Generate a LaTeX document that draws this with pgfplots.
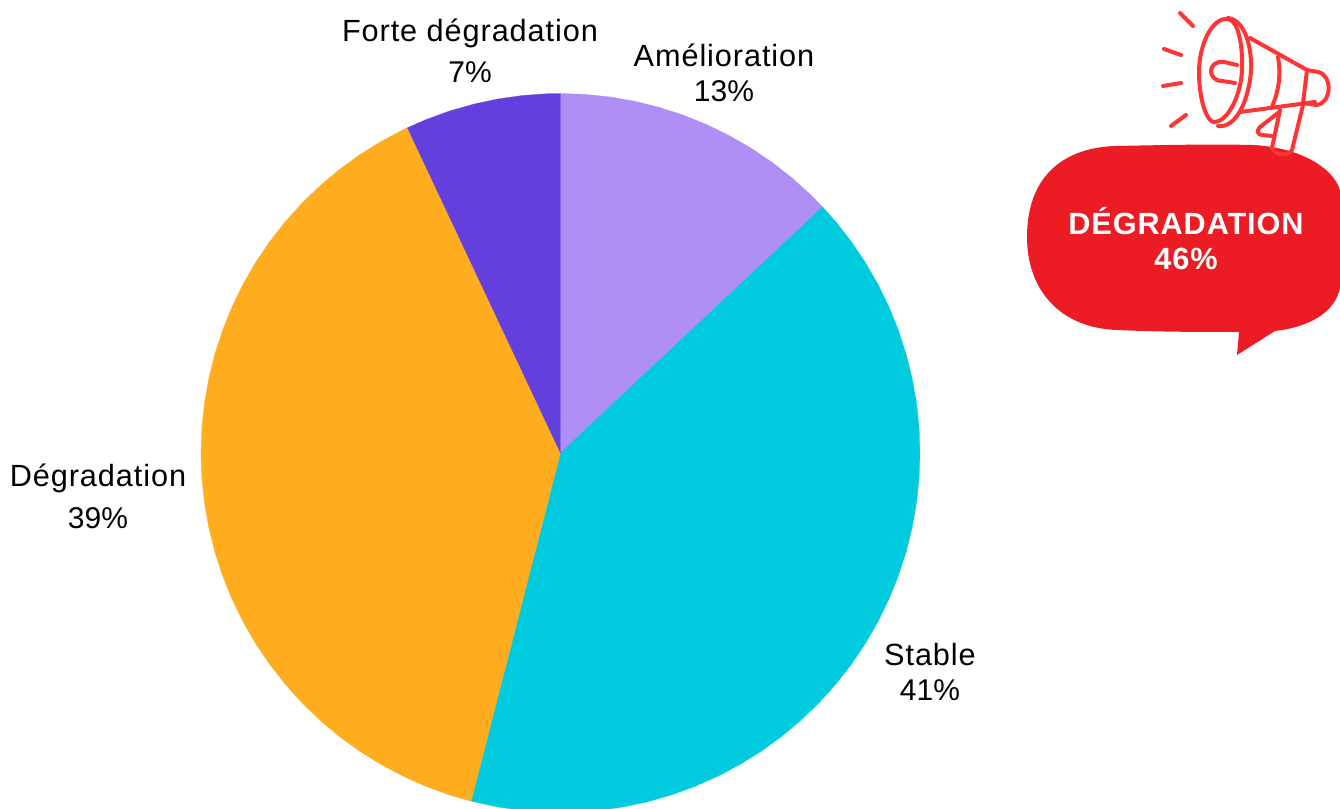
\documentclass[border=0pt]{standalone}
\usepackage{pgfplots}
\pgfplotsset{compat=1.18}
\usepackage{fontspec}
\setmainfont{Liberation Sans}
\newfontfamily\wordf[LetterSpace=3]{Liberation Sans}
\definecolor{sA}{HTML}{AF8FF5}
\definecolor{sB}{HTML}{00CBDE}
\definecolor{sC}{HTML}{FFAC1E}
\definecolor{sD}{HTML}{6340DD}
\definecolor{bub}{HTML}{ED1C24}
\definecolor{meg}{HTML}{FF3535}
\begin{document}
\begin{tikzpicture}
\path[use as bounding box] (0,0) rectangle (1005pt,606.75pt);
% Shares: 13, 41, 39, 7 (%) -> slices in polar coordinates (angle, radius)
\begin{axis}[scale only axis,width=1005pt,height=606.75pt,hide axis,at={(0,0)},anchor=south west,
  xmin=-1.5591,xmax=2.1683,ymin=-0.9903,ymax=1.2601]
\addplot[fill=sA,draw=sA,line width=0.2pt,data cs=polar] coordinates {(0,0)
 (90,1)(86,1)(82,1)(78,1)(74,1)(70,1)(66,1)(62,1)(58,1)(54,1)(50,1)(46,1)(43.2,1)} -- cycle;
\addplot[fill=sB,draw=sB,line width=0.2pt,data cs=polar] coordinates {(0,0)
 (43.2,1)(40,1)(36,1)(32,1)(28,1)(24,1)(20,1)(16,1)(12,1)(8,1)(4,1)(0,1)
 (-4,1)(-8,1)(-12,1)(-16,1)(-20,1)(-24,1)(-28,1)(-32,1)(-36,1)(-40,1)(-44,1)(-48,1)(-52,1)
 (-56,1)(-60,1)(-64,1)(-68,1)(-72,1)(-76,1)(-80,1)(-84,1)(-88,1)(-92,1)(-96,1)(-100,1)(-104.4,1)} -- cycle;
\addplot[fill=sC,draw=sC,line width=0.2pt,data cs=polar] coordinates {(0,0)
 (-104.4,1)(-108,1)(-112,1)(-116,1)(-120,1)(-124,1)(-128,1)(-132,1)(-136,1)(-140,1)(-144,1)(-148,1)
 (-152,1)(-156,1)(-160,1)(-164,1)(-168,1)(-172,1)(-176,1)(-180,1)(-184,1)(-188,1)(-192,1)(-196,1)
 (-200,1)(-204,1)(-208,1)(-212,1)(-216,1)(-220,1)(-224,1)(-228,1)(-232,1)(-236,1)(-240,1)(-244,1)(-244.8,1)} -- cycle;
\addplot[fill=sD,draw=sD,line width=0.2pt,data cs=polar] coordinates {(0,0)
 (-244.8,1)(-248,1)(-252,1)(-256,1)(-260,1)(-264,1)(-268,1)(-270,1)} -- cycle;
\end{axis}
\begin{scope}[shift={(0,606.75pt)},x=0.75pt,y=-0.75pt]
\fill[bub] (1117,146) .. controls (1165,145) and (1210,144) .. (1253,145)
  .. controls (1295,147) and (1332,165) .. (1340,190) -- (1340,288)
  .. controls (1335,312) and (1310,327) .. (1275,331) -- (1237,355) -- (1239,332)
  .. controls (1200,332) and (1160,332) .. (1117,330)
  .. controls (1060,328) and (1027,290) .. (1027,237)
  .. controls (1027,175) and (1065,147) .. (1117,146) -- cycle;
\begin{scope}[draw=meg,line width=3pt,line cap=round,line join=round]
\draw (1228,19) .. controls (1212,17) and (1199,45) .. (1199,72)
  .. controls (1199,100) and (1207,122) .. (1214,122)
  .. controls (1228,122) and (1241,95) .. (1242,70)
  .. controls (1243,45) and (1238,20) .. (1228,19);
\draw (1228,18) .. controls (1247,20) and (1254,55) .. (1250,80)
  .. controls (1246,105) and (1235,128) .. (1218,126);
\draw (1250,38) -- (1307,70);
\draw (1240,112) -- (1315,102);
\draw (1278,57) .. controls (1281,75) and (1279,90) .. (1272,107);
\draw (1307,70) -- (1303,103);
\draw (1307,70) -- (1318,72) .. controls (1333,75) and (1332,104) .. (1316,105) -- (1303,103);
\draw (1303,105) -- (1292,150) .. controls (1288,157) and (1275,155) .. (1272,148) -- (1280,110);
\draw (1278,113) -- (1260,127) .. controls (1256,131) and (1258,135) .. (1262,135) -- (1272,136);
\draw (1237,65) -- (1224,62) .. controls (1207,60) and (1207,81) .. (1222,81) -- (1235,83);
\draw (1180,13) -- (1193,26);
\draw (1164,49) -- (1181,55);
\draw (1163,86) -- (1181,83);
\draw (1171,126) -- (1186,115);
\end{scope}
\tikzset{lab/.style={anchor=base,inner sep=0pt,font=\fontsize{22.5pt}{27pt}\selectfont,text=black}}
\tikzset{wlab/.style={anchor=base,inner sep=0pt,font=\wordf\fontsize{23pt}{27pt}\selectfont,text=black}}
\node[wlab] at (470,42) {Forte dégradation};
\node[lab] at (470,83) {7\%};
\node[wlab] at (724,67) {Amélioration};
\node[lab] at (724,102) {13\%};
\node[wlab] at (98,487) {Dégradation};
\node[lab] at (98,529) {39\%};
\node[wlab] at (930,666) {Stable};
\node[lab] at (930,701) {41\%};
\tikzset{blab/.style={anchor=base,inner sep=0pt,font=\wordf\fontsize{23pt}{27pt}\selectfont\bfseries,text=white}}
\node[blab] at (1186,235) {DÉGRADATION};
\node[blab] at (1186,270) {46\%};
\end{scope}
\end{tikzpicture}
\end{document}
